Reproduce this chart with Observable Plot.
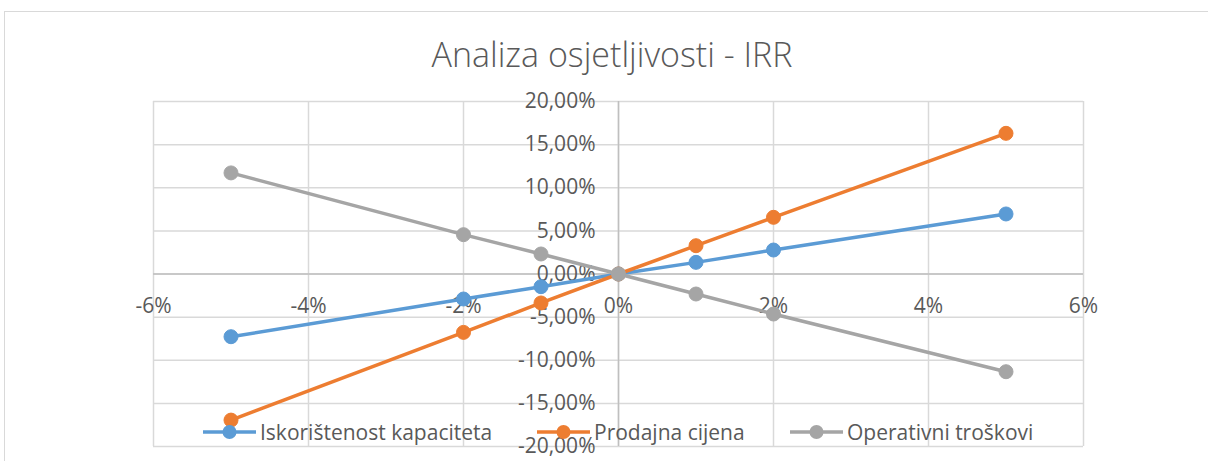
<!DOCTYPE html>
<html>
<head>
<meta charset="utf-8">
<script src="https://cdn.jsdelivr.net/npm/d3@7"></script>
<script src="https://cdn.jsdelivr.net/npm/@observablehq/plot@0.6"></script>
<style>
  body { margin: 0; background: #fff; font-family: "Open Sans", sans-serif; }
  #wrap { position: relative; width: 1208px; height: 461px; overflow: hidden; background: #fff; }
  #frame { position: absolute; left: 4px; top: 11px; width: 1240px; height: 500px; border: 1px solid #d9d9d9; box-sizing: border-box; pointer-events: none; }
  #titlebox { position: relative; height: 80px; }
  #title { position: absolute; left: 16px; width: 1192px; top: 38px; text-align: center; font-size: 34px; line-height: 32px; font-weight: 300; color: #595959; white-space: nowrap; }
  #chart { position: relative; }
  .leg { position: absolute; top: 420px; height: 24px; display: flex; align-items: center; font-size: 21px; line-height: 24px; color: #595959; white-space: nowrap; }
  .leg svg { display: block; margin-right: 4px; }
</style>
</head>
<body>
<div id="wrap">
  <div id="frame"></div>
  <div id="titlebox"><div id="title"></div></div>
  <div id="chart"></div>
  <div id="legend"></div>
</div>
<script>
// ---- data ----
const titleText = "Analiza osjetljivosti - IRR";
const changes = [-5, -2, -1, 0, 1, 2, 5];              // promjena (%)
const seriesNames = ["Iskorištenost kapaciteta", "Prodajna cijena", "Operativni troškovi"];
const kapacitet = [-7.27, -2.90, -1.47, 0, 1.35, 2.78, 6.96];
const cijena    = [-16.94, -6.77, -3.36, 0, 3.28, 6.57, 16.31];
const troskovi  = [11.72, 4.56, 2.32, 0, -2.32, -4.64, -11.33];
const seriesColors = ["#5B9BD5", "#ED7D31", "#A5A5A5"];
const xTicks = [-6, -4, -2, 0, 2, 4, 6];
const xTickLabels = ["-6%", "-4%", "-2%", "0%", "2%", "4%", "6%"];
const yTicks = [-20, -15, -10, -5, 0, 5, 10, 15, 20];
const yTickLabels = ["-20,00%", "-15,00%", "-10,00%", "-5,00%", "0,00%", "5,00%", "10,00%", "15,00%", "20,00%"];

// ---- build ----
document.getElementById("title").textContent = titleText;

const seriesValues = [kapacitet, cijena, troskovi];
const tables = seriesValues.map((vals, s) => changes.map((c, i) => ({x: c, y: vals[i], series: seriesNames[s]})));
const xLab = xTicks.map((v, i) => ({v, label: xTickLabels[i]}));
const yLab = yTicks.map((v, i) => ({v, label: yTickLabels[i]}));

const textColor = "#595959";
const seriesMarks = [];
tables.forEach((t, s) => {
  seriesMarks.push(Plot.line(t, {x: "x", y: "y", stroke: seriesColors[s], strokeWidth: 3.5, strokeLinejoin: "round"}));
  seriesMarks.push(Plot.dot(t, {x: "x", y: "y", r: 7, fill: seriesColors[s], stroke: seriesColors[s], strokeWidth: 1}));
});

const chart = Plot.plot({
  width: 1208,
  height: 381,
  marginTop: 21,
  marginBottom: 15,
  marginLeft: 153,
  marginRight: 125,
  x: {domain: [-6, 6], axis: null},
  y: {domain: [-20, 20], axis: null},
  style: {fontFamily: "Open Sans", fontSize: "21px", color: textColor, background: "transparent", overflow: "visible"},
  marks: [
    Plot.ruleX(xTicks, {stroke: "#d9d9d9", strokeWidth: 1.5}),
    Plot.ruleY(yTicks, {stroke: "#d9d9d9", strokeWidth: 1.5}),
    Plot.ruleX([0], {stroke: "#bfbfbf", strokeWidth: 1.5}),
    Plot.ruleY([0], {stroke: "#bfbfbf", strokeWidth: 1.5}),
    Plot.text(xLab, {x: "v", y: () => 0, text: "label", dy: 32, fill: textColor, fontSize: 21}),
    Plot.text(yLab, {x: () => 0, y: "v", text: "label", textAnchor: "end", dx: -23, fill: textColor, fontSize: 21}),
    ...seriesMarks
  ]
});
document.getElementById("chart").appendChild(chart);

// ---- legend (line + marker swatches) ----
const legendLefts = [203, 537, 790];
const legend = document.getElementById("legend");
seriesNames.forEach((name, s) => {
  const item = document.createElement("div");
  item.className = "leg";
  item.style.left = legendLefts[s] + "px";
  item.innerHTML = `<svg width="53" height="16"><line x1="0" x2="53" y1="8" y2="8" stroke="${seriesColors[s]}" stroke-width="3.5"/><circle cx="26.5" cy="8" r="7" fill="${seriesColors[s]}"/></svg><span>${name}</span>`;
  legend.appendChild(item);
});
</script>
</body>
</html>
